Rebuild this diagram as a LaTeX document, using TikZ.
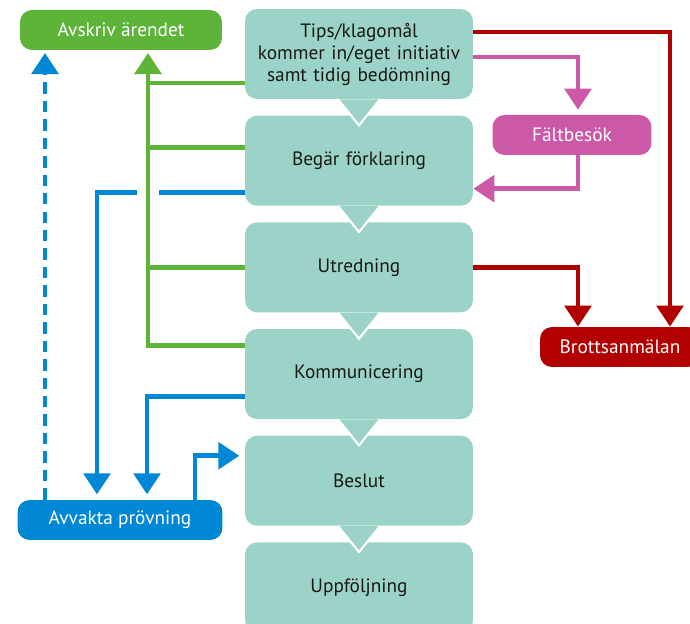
\documentclass[tikz,border=0pt]{standalone}
\usepackage{fontspec}
\setmainfont{PT Sans}
\usetikzlibrary{positioning,arrows.meta,calc}
\definecolor{stageteal}{RGB}{155,211,201}
\definecolor{avskrivgreen}{RGB}{94,180,56}
\definecolor{avvaktablue}{RGB}{0,136,214}
\definecolor{faltpink}{RGB}{204,88,168}
\definecolor{brottred}{RGB}{178,0,0}
\pgfdeclarelayer{bg}
\pgfsetlayers{bg,main}
\tikzset{
  stage/.style={rectangle, fill=stageteal, rounded corners=0.24cm,
    minimum width=4.56cm, minimum height=1.8cm, text width=4.4cm,
    align=center, text=black!90, inner sep=0pt},
  side/.style={rectangle, rounded corners=0.24cm, minimum height=0.8cm,
    text=white, inner sep=0pt},
  conn/.style={line width=2.8pt, -{Triangle[width=15pt,length=12pt]}},
}

\begin{document}
\begin{tikzpicture}[x=0.02cm, y=-0.02cm, node distance=0.32cm,
  font=\fontsize{11}{12.5}\selectfont]
\useasboundingbox (0,0) rectangle (690,624);
\clip (0,0) rectangle (690,624);

%% Place nodes
\node [stage] (tips) at (359,54) {Tips/klagomål\\kommer in/eget initiativ\\samt tidig bedömning};
\node [stage, below=of tips] (begar) {Begär förklaring};
\node [stage, below=of begar] (utred) {Utredning};
\node [stage, below=of utred] (kommun) {Kommunicering};
\node [stage, below=of kommun] (beslut) {Beslut};
\node [stage, below=of beslut] (uppfolj) {Uppföljning};

\node [side, fill=avskrivgreen, minimum width=4.04cm] (avskriv) at (121,30) {Avskriv ärendet};
\node [side, fill=faltpink, minimum width=3.18cm] (faltbesok) at (572,135) {Fältbesök};
\node [side, fill=brottred, minimum width=3.2cm] (brott) at (620,347) {Brottsanmälan};
\node [side, fill=avvaktablue, minimum width=4.1cm] (avvakta) at (120,520) {Avvakta prövning};

%% Pointers between the stages
\foreach \s in {tips,begar,utred,kommun,beslut}{
    \path [fill=stageteal, draw=white, line width=1.2pt]
      ($(\s.south)+(-21,0)$) -- ($(\s.south)+(0,26)$) -- ($(\s.south)+(21,0)$);
}

%% Vertical runs and side exits of the connectors
\coordinate (gv) at (148,0);
\coordinate (bd) at (45,0);
\coordinate (b1) at (97,0);
\coordinate (b2) at (147,0);
\coordinate (b3) at (195,0);
\coordinate (fx) at (578,0);
\coordinate (rx) at (670,0);
\coordinate (tipsgreen) at ($(tips.west)+(0,29)$);
\coordinate (begargreen) at ($(begar.west)+(0,-13)$);

%% Draw lines between boxes
\begin{pgfonlayer}{bg}
\draw [conn, avvaktablue, dash pattern=on 6.5pt off 4pt, shorten >=1.5pt] (avvakta.north -| bd) -- (avskriv.south -| bd);
\draw [conn, avvaktablue, shorten >=3pt] ($(begar.west)+(0,32)$) -| (avvakta.north -| b1);
\draw [conn, avvaktablue, shorten >=3pt] ($(kommun.west)+(0,22)$) -| (avvakta.north -| b2);
\draw [conn, avvaktablue, shorten >=3pt] (avvakta.north -| b3) |- ($(beslut.west)+(0,-25)$);

\draw [conn, avskrivgreen, shorten >=1.5pt, preaction={draw=white, line width=12pt, -, shorten >=0pt}]
  ($(kommun.west)+(0,-29)$) -| (avskriv.south -| gv);
\draw [avskrivgreen, line width=2.8pt] (tipsgreen) -- (tipsgreen -| gv);
\draw [avskrivgreen, line width=2.8pt] (begargreen) -- (begargreen -| gv);
\draw [avskrivgreen, line width=2.8pt] (utred.west) -- (utred.west -| gv);

\draw [conn, faltpink, shorten >=2.8pt] ($(tips.east)+(0,3)$) -| (faltbesok.north -| fx);
\draw [conn, faltpink] (faltbesok.south -| fx) |- ($(begar.east)+(0,28)$);

\draw [conn, brottred] ($(tips.east)+(0,-22)$) -| (brott.north -| rx);
\draw [conn, brottred] (utred.east) -| (brott.north -| fx);
\end{pgfonlayer}
\end{tikzpicture}
\end{document}
